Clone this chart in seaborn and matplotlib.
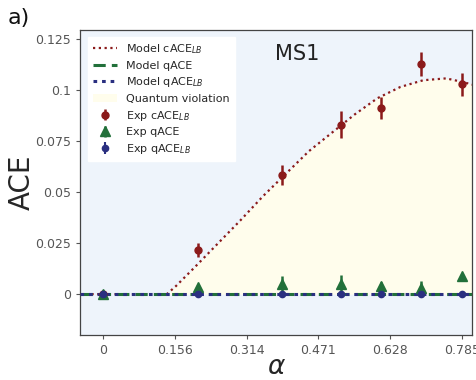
import numpy as np
import pandas as pd
import matplotlib
matplotlib.use('Agg')
import matplotlib.pyplot as plt
import seaborn as sns

# Model curve
alpha_model = [-0.05, 0.0, 0.10, 0.14, 0.16, 0.18, 0.20, 0.25, 0.30, 0.35, 0.40, 0.45,
               0.50, 0.55, 0.60, 0.65, 0.70, 0.75, 0.785, 0.81]
cace_lb_model = [0, 0, 0, 0, 0.004, 0.0085, 0.013, 0.0245, 0.036, 0.048, 0.059, 0.070,
                 0.079, 0.088, 0.096, 0.1015, 0.1048, 0.1057, 0.1040, 0.1025]
qace_model = [0.0] * len(alpha_model)
qace_lb_model = [0.0] * len(alpha_model)

# Experimental points
alpha_exp = [0.0, 0.209, 0.392, 0.521, 0.608, 0.695, 0.785]
cace_lb_exp = [0.0, 0.0216, 0.0583, 0.0830, 0.0913, 0.1127, 0.1028]
cace_lb_err = [0.0, 0.0033, 0.0050, 0.0066, 0.0054, 0.0057, 0.0057]
qace_exp = [0.0, 0.0033, 0.0048, 0.0052, 0.0039, 0.0028, 0.0090]
qace_err = [0.0, 0.0015, 0.0040, 0.0040, 0.0020, 0.0035, 0.0005]
qace_lb_exp = [0.0, 0.0, 0.0, 0.0, 0.0, 0.0, 0.0]
qace_lb_err = [0.0005, 0.0005, 0.0005, 0.0005, 0.0005, 0.0005, 0.0005]

xticks = [0, 0.157, 0.314, 0.471, 0.628, 0.785]
xtick_labels = ['0', '0.156', '0.314', '0.471', '0.628', '0.785']
yticks = [0, 0.025, 0.05, 0.075, 0.1, 0.125]
ytick_labels = ['0', '0.025', '0.05', '0.075', '0.1', '0.125']

red = '#8b1a1a'
green = '#22703a'
navy = '#2a2f80'

sns.set_style('ticks')
plt.rcParams['font.family'] = ['DejaVu Sans']

fig = plt.figure(figsize=(4.77, 3.80), dpi=100)
ax = fig.add_axes([0.168, 0.118, 0.822, 0.803])
ax.set_facecolor('#eef4fb')

model = pd.DataFrame({'alpha': alpha_model, 'cace_lb': cace_lb_model,
                      'qace': qace_model, 'qace_lb': qace_lb_model})

ax.fill_between(model['alpha'], 0, model['cace_lb'], color='#fffdec', lw=0,
                label='Quantum violation', zorder=1)
sns.lineplot(data=model, x='alpha', y='cace_lb', ax=ax, color=red, lw=1.6,
             linestyle=(0, (1, 1.6)), label='Model cACE$_{LB}$', zorder=3)
sns.lineplot(data=model, x='alpha', y='qace', ax=ax, color=green, lw=2.2,
             linestyle=(0, (4, 2)), label='Model qACE', zorder=3)
sns.lineplot(data=model, x='alpha', y='qace_lb', ax=ax, color=navy, lw=2.2,
             linestyle=(0, (1.2, 1.6)), label='Model qACE$_{LB}$', zorder=4)

ax.errorbar(alpha_exp, cace_lb_exp, yerr=cace_lb_err, fmt='o', color=red,
            ms=5, elinewidth=1.8, capsize=0, label='Exp cACE$_{LB}$', zorder=5)
ax.errorbar(alpha_exp, qace_exp, yerr=qace_err, fmt='^', color=green,
            ms=6.5, elinewidth=1.8, capsize=0, label='Exp qACE', zorder=5)
ax.errorbar(alpha_exp, qace_lb_exp, yerr=qace_lb_err, fmt='o', color=navy,
            ms=4.5, elinewidth=1.5, capsize=0, label='Exp qACE$_{LB}$', zorder=6)

# legend order: model lines, fill, then experiments
handles, labels = ax.get_legend_handles_labels()
order = ['Model cACE$_{LB}$', 'Model qACE', 'Model qACE$_{LB}$', 'Quantum violation',
         'Exp cACE$_{LB}$', 'Exp qACE', 'Exp qACE$_{LB}$']
hmap = dict(zip(labels, handles))
leg = ax.legend([hmap[l] for l in order], order, loc='upper left', fontsize=8,
                frameon=True, fancybox=False, framealpha=1, edgecolor='white',
                handlelength=2.2, borderpad=0.45, labelspacing=0.42,
                bbox_to_anchor=(0.005, 0.995))
leg.get_frame().set_facecolor('white')

ax.set_xlim(-0.0495, 0.807)
ax.set_ylim(-0.0201, 0.1294)
ax.set_xticks(xticks)
ax.set_xticklabels(xtick_labels)
ax.set_yticks(yticks)
ax.set_yticklabels(ytick_labels)
ax.tick_params(labelsize=9, colors='#555555', length=3, width=0.8)
for s in ax.spines.values():
    s.set_color('#444444')
    s.set_linewidth(0.9)

ax.set_xlabel(r'$\alpha$', fontsize=19)
ax.xaxis.set_label_coords(0.5, -0.062)
ax.set_ylabel('ACE', fontsize=20)
ax.yaxis.set_label_coords(-0.112, 0.5)
ax.text(0.553, 0.92, 'MS1', transform=ax.transAxes, fontsize=15, ha='center', va='center',
        color='#222222')
fig.text(0.015, 0.952, 'a)', fontsize=16, ha='left', va='center', color='#111111')

fig.savefig('out.png', dpi=100)
